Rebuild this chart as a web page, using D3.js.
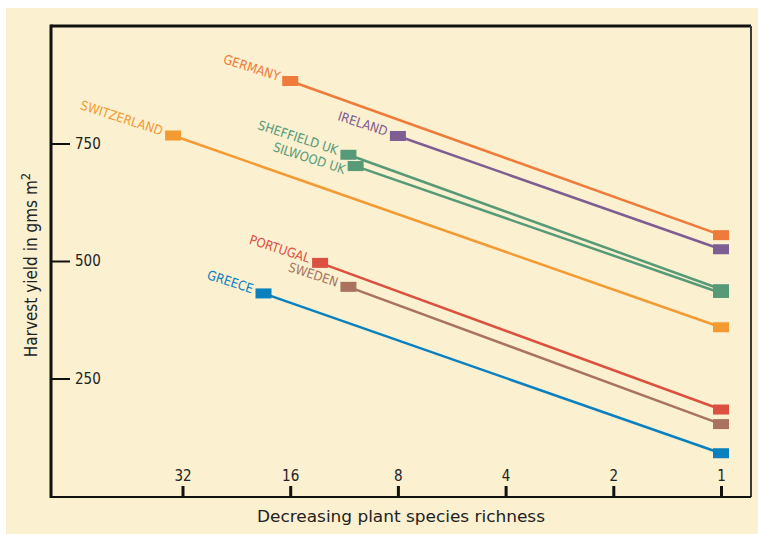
<!DOCTYPE html>
<html>
<head>
<meta charset="utf-8">
<script src="https://cdn.jsdelivr.net/npm/d3@7"></script>
<style>
  html, body { margin: 0; padding: 0; background: #fff; }
  svg { display: block; }
  text { font-family: "Liberation Sans Narrow", "DejaVu Sans Condensed", "Liberation Sans", sans-serif; font-stretch: condensed; }
</style>
</head>
<body>
<div id="chart"></div>
<script>
// 数据：各国的起点物种数、起点产量、终点(1 种)产量
var countries = ["GERMANY", "IRELAND", "SHEFFIELD UK", "SILWOOD UK", "SWITZERLAND", "PORTUGAL", "SWEDEN", "GREECE"];
var startRichness = [16, 8, 11, 10.5, 34, 13.2, 11, 19];
var startYield = [883, 766, 726, 702, 767, 496, 445, 431];
var endYield = [555, 525, 440, 432, 359, 184, 153, 91];
var endRichness = 1;

var xTicks = [32, 16, 8, 4, 2, 1];
var yTicks = [250, 500, 750];

var colors = ["#ef7b3b", "#7e5d92", "#579a77", "#579a77", "#f39a32", "#dc5040", "#a9735f", "#0a80bf"];

var width = 758, height = 534;
var frame = { left: 51, right: 751, top: 26, bottom: 497 };

var svg = d3.select("#chart").append("svg")
    .attr("width", width)
    .attr("height", height);

// 背景
svg.append("rect")
    .attr("x", 6).attr("y", 8)
    .attr("width", width - 6).attr("height", height - 8)
    .attr("fill", "#fbf0d0");

// 比例尺
var x = d3.scaleLog().base(2)
    .domain([32, 1])
    .range([182.5, 721]);

var y = d3.scaleLinear()
    .domain([0, 1000])
    .range([496, 26]);

// 边框
svg.append("line")
    .attr("x1", frame.left).attr("x2", frame.right)
    .attr("y1", frame.top).attr("y2", frame.top)
    .attr("stroke", "#111").attr("stroke-width", 3);
svg.append("line")
    .attr("x1", frame.right).attr("x2", frame.right)
    .attr("y1", frame.top).attr("y2", frame.bottom)
    .attr("stroke", "#3a3a3a").attr("stroke-width", 2);

// x 轴
var xAxis = svg.append("g")
    .attr("transform", "translate(0," + frame.bottom + ")")
    .call(d3.axisBottom(x).tickValues(xTicks).tickSize(-11).tickPadding(5).tickFormat(d3.format("d")));
xAxis.select(".domain").remove();
xAxis.selectAll(".tick line").attr("stroke", "#111").attr("stroke-width", 3);
xAxis.selectAll(".tick text")
    .attr("y", -16).attr("dy", 0)
    .attr("font-size", 15).attr("fill", "#222");
svg.append("line")
    .attr("x1", frame.left).attr("x2", frame.right)
    .attr("y1", frame.bottom).attr("y2", frame.bottom)
    .attr("stroke", "#111").attr("stroke-width", 2);

// y 轴
var yAxis = svg.append("g")
    .attr("transform", "translate(" + frame.left + ",0)")
    .call(d3.axisRight(y).tickValues(yTicks).tickSize(19).tickPadding(5));
yAxis.select(".domain").remove();
yAxis.selectAll(".tick line").attr("stroke", "#111").attr("stroke-width", 2);
yAxis.selectAll(".tick text")
    .attr("font-size", 15).attr("fill", "#222");
svg.append("line")
    .attr("x1", frame.left).attr("x2", frame.left)
    .attr("y1", frame.top - 1.5).attr("y2", frame.bottom + 1)
    .attr("stroke", "#111").attr("stroke-width", 3);

// 坐标轴标题
svg.append("text")
    .attr("x", 401).attr("y", 522)
    .attr("text-anchor", "middle")
    .attr("font-size", 16).attr("fill", "#222")
    .attr("textLength", 288).attr("lengthAdjust", "spacingAndGlyphs")
    .text("Decreasing plant species richness");

var yTitle = svg.append("text")
    .attr("transform", "translate(37,265) rotate(-90)")
    .attr("text-anchor", "middle")
    .attr("font-size", 17).attr("fill", "#222");
yTitle.append("tspan").text("Harvest yield in gms m");
yTitle.append("tspan").attr("baseline-shift", "super").attr("font-size", 13).text("2");

// 线条
var idx = d3.range(countries.length);
svg.selectAll("line.series")
    .data(idx)
    .enter().append("line")
    .attr("class", "series")
    .attr("x1", i => x(startRichness[i]))
    .attr("y1", i => y(startYield[i]))
    .attr("x2", x(endRichness))
    .attr("y2", i => y(endYield[i]))
    .attr("stroke", i => colors[i])
    .attr("stroke-width", 2.5);

// 起点和终点的方块
var boxW = 16, boxH = 10;
idx.forEach(function(i) {
    [[startRichness[i], startYield[i]], [endRichness, endYield[i]]].forEach(function(p) {
        svg.append("rect")
            .attr("x", x(p[0]) - boxW / 2)
            .attr("y", y(p[1]) - boxH / 2)
            .attr("width", boxW).attr("height", boxH)
            .attr("fill", colors[i]);
    });
});

// 国家标签（斜着写）
svg.selectAll("text.label")
    .data(idx)
    .enter().append("text")
    .attr("class", "label")
    .attr("transform", function(i) {
        var dy = countries[i] === "SILWOOD UK" ? 8 : 0;
        return "translate(" + (x(startRichness[i]) - 12) + "," + (y(startYield[i]) + dy) + ") rotate(18)";
    })
    .attr("text-anchor", "end")
    .attr("font-size", 13)
    .attr("fill", i => colors[i])
    .text(i => countries[i]);
</script>
</body>
</html>
